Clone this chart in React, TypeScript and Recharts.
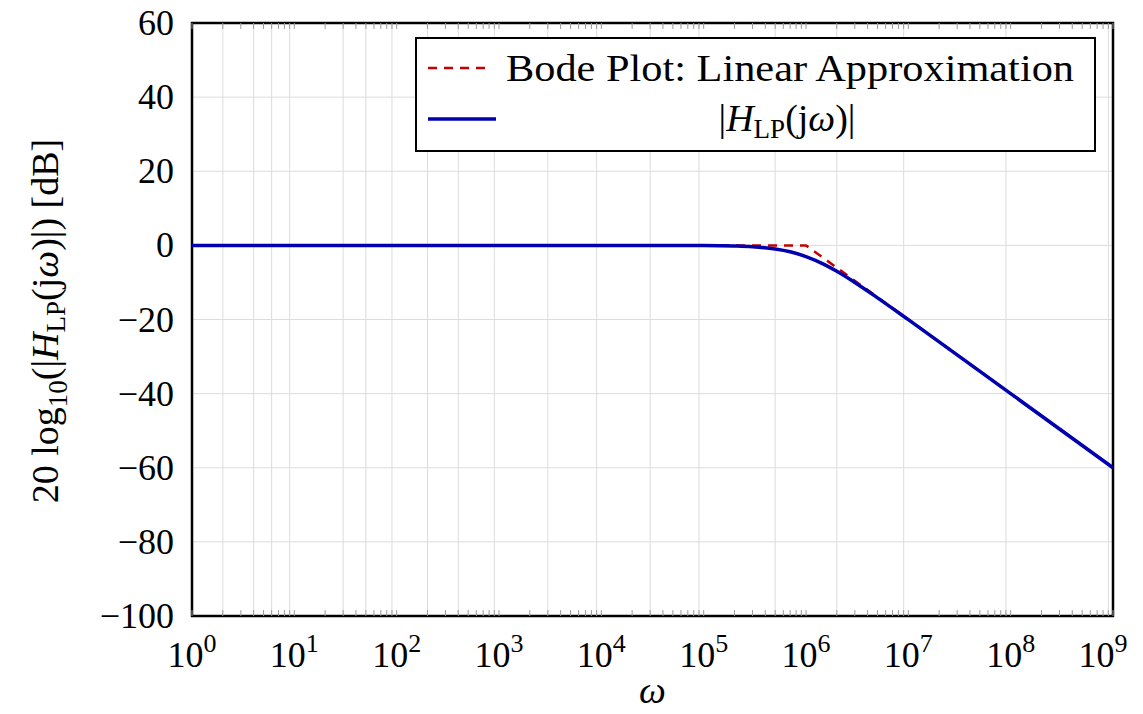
import { LineChart, Line, XAxis, YAxis, CartesianGrid, Legend, ReferenceLine, ReferenceArea, Label } from 'recharts'

const FONT = '"Liberation Serif", "DejaVu Serif", serif'

// omega samples and magnitudes
const approxW = [1, 1e6, 1e9]
const approxDb = [0, 0, -60]
const magW = [1, 10, 100, 1e3, 1e4, 1e5, 2e5, 3e5, 5e5, 7e5, 1e6, 1.5e6, 2e6, 3e6, 5e6, 1e7, 1e8, 1e9]
const magDb = [0, 0, 0, 0, 0, -0.04, -0.17, -0.37, -0.97, -1.73, -3.01, -5.12, -6.99, -10, -14.15, -20.04, -40, -60]

const decades = [1, 10, 100, 1e3, 1e4, 1e5, 1e6, 1e7, 1e8, 1e9]
const minorSteps = [2, 3, 4, 5, 6, 7, 8, 9]
const yTicks = [-100, -80, -60, -40, -20, 0, 20, 40, 60]

const approxData = approxW.map((w, i) => ({ w, db: approxDb[i] }))
const magData = magW.map((w, i) => ({ w, db: magDb[i] }))
const minorX = decades.slice(0, -1).flatMap((d) => minorSteps.map((m) => d * m))
const gridX = [...decades, ...minorX]

const XTick = ({ x, y, payload }: any) => (
  <text x={x} y={y + 51} textAnchor='middle' fontSize={36} fontFamily={FONT} fill='#000'>
    10<tspan dy={-15} fontSize={26}>{Math.round(Math.log10(payload.value))}</tspan>
  </text>
)

const YTick = ({ x, y, payload }: any) => (
  <text x={x} y={y + 12} textAnchor='end' fontSize={36} fontFamily={FONT} fill='#000'>
    {payload.value < 0 ? '\u2212' + -payload.value : payload.value}
  </text>
)

const YLabel = () => (
  <text transform='translate(58, 321) rotate(-90)' textAnchor='middle' fontSize={38} fontFamily={FONT} fill='#000'>
    20 log<tspan dy={9} fontSize={27}>10</tspan>
    <tspan dy={-9}>(|</tspan>
    <tspan fontStyle='italic'>H</tspan>
    <tspan dy={7} fontSize={27}>LP</tspan>
    <tspan dy={-7}>(j</tspan>
    <tspan fontStyle='italic'>ω</tspan>
    <tspan>)|) [dB]</tspan>
  </text>
)

const XLabel = ({ viewBox }: any) => (
  <text x={viewBox.x + viewBox.width / 2} y={703} textAnchor='middle' fontSize={38} fontStyle='italic' fontFamily={FONT} fill='#000'>
    ω
  </text>
)

const renderLegend = () => (
  <div style={{ width: 681, height: 115, border: '2.5px solid #000', boxSizing: 'border-box', background: '#fff' }}>
    <svg width={676} height={110} style={{ display: 'block' }}>
      <line x1={11} x2={71} y1={29} y2={29} stroke='#c40000' strokeWidth={2.5} strokeDasharray='9 7' />
      <text x={89} y={42} fontSize={38} fontFamily={FONT} fill='#000' textLength={568} lengthAdjust='spacingAndGlyphs'>
        Bode Plot: Linear Approximation
      </text>
      <line x1={11} x2={79} y1={80} y2={80} stroke='#0000b0' strokeWidth={3.5} />
      <text x={370} y={92} textAnchor='middle' fontSize={38} fontFamily={FONT} fill='#000'>
        |<tspan fontStyle='italic'>H</tspan>
        <tspan dy={7} fontSize={27}>LP</tspan>
        <tspan dy={-7}>(j</tspan>
        <tspan fontStyle='italic'>ω</tspan>)|
      </text>
    </svg>
  </div>
)

export default function App() {
  return (
    <div style={{ position: 'absolute', left: 0, top: 0, background: '#fff' }}>
      <LineChart width={1143} height={714} margin={{ top: 23, right: 30, bottom: 0, left: 0 }}>
        <CartesianGrid stroke='#dcdcdc' strokeWidth={1} verticalValues={gridX} horizontalValues={yTicks} />
        <XAxis
          dataKey='w'
          type='number'
          scale='log'
          domain={[1, 1e9]}
          ticks={decades}
          allowDataOverflow
          height={98}
          tickSize={0}
          tickMargin={0}
          axisLine={false}
          tick={<XTick />}
          label={<Label content={<XLabel />} />}
        />
        <YAxis
          type='number'
          domain={[-100, 60]}
          ticks={yTicks}
          width={192}
          tickSize={0}
          tickMargin={18}
          axisLine={false}
          tick={<YTick />}
          label={<Label content={<YLabel />} />}
        />
        {gridX.map((v) => (
          <ReferenceLine key={'b' + v} segment={[{ x: v, y: -100 }, { x: v, y: -98.4 }]} stroke='#999' strokeWidth={1} />
        ))}
        {gridX.map((v) => (
          <ReferenceLine key={'t' + v} segment={[{ x: v, y: 60 }, { x: v, y: 58.4 }]} stroke='#999' strokeWidth={1} />
        ))}
        <Line
          data={approxData}
          dataKey='db'
          name='Bode Plot: Linear Approximation'
          type='linear'
          stroke='#c40000'
          strokeWidth={2.5}
          strokeDasharray='9 7'
          dot={false}
          isAnimationActive={false}
        />
        <Line
          data={magData}
          dataKey='db'
          name='|H_LP(jω)|'
          type='monotone'
          stroke='#0000b0'
          strokeWidth={3.5}
          dot={false}
          isAnimationActive={false}
        />
        <ReferenceArea x1={1} x2={1e9} y1={-100} y2={60} fill='none' fillOpacity={0} stroke='#000' strokeWidth={2.5} />
        <Legend
          layout='horizontal'
          verticalAlign='middle'
          align='center'
          content={renderLegend}
          wrapperStyle={{ top: 37, left: 415, width: 681, height: 115 }}
        />
      </LineChart>
    </div>
  )
}
